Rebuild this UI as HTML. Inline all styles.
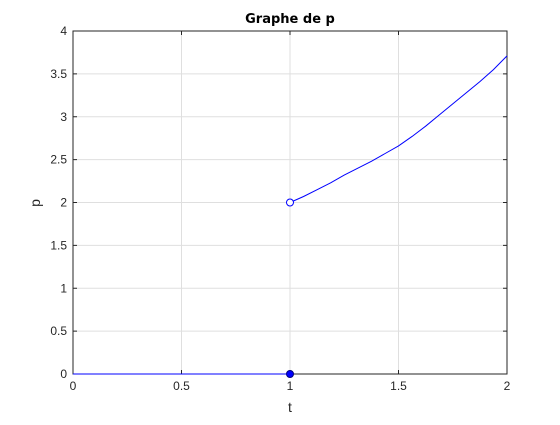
<!DOCTYPE html>
<html><head><meta charset="utf-8"><style>
body{margin:0;background:#fff;width:560px;height:420px;overflow:hidden}
svg text{font-family:"Liberation Sans",sans-serif;fill:#262626}
</style></head><body>
<svg id="chart" width="560" height="420" xmlns="http://www.w3.org/2000/svg">
<rect width="560" height="420" fill="#fff"/>
<g id="grid"></g>
<g id="axes"></g>
<g id="series"></g>
<text x="290" y="23" font-size="13" font-weight="bold" text-anchor="middle" style="font-family:'DejaVu Sans',sans-serif;fill:#000">Graphe de p</text>
<text x="290" y="412" font-size="14" text-anchor="middle">t</text>
<text x="40" y="203" font-size="14" text-anchor="middle" transform="rotate(-90 40 203)">p</text>
</svg>
<script>
const xTicks=[0,0.5,1,1.5,2];
const xTickLabels=["0","0.5","1","1.5","2"];
const yTicks=[0,0.5,1,1.5,2,2.5,3,3.5,4];
const yTickLabels=["0","0.5","1","1.5","2","2.5","3","3.5","4"];
const flatT=[0,1];
const flatP=[0,0];
const curveT=[1,1.0625,1.125,1.1875,1.25,1.3125,1.375,1.4375,1.5,1.5625,1.625,1.6875,1.75,1.8125,1.875,1.9375,2];
const curveP=[2,2.07,2.15,2.23,2.32,2.40,2.48,2.57,2.66,2.77,2.89,3.02,3.15,3.28,3.41,3.55,3.71];
const openPt=[1,2];
const filledPt=[1,0];
const L=73,R=507,T=31,B=374;
const sx=v=>L+(v-0)/(2-0)*(R-L);
const sy=v=>B-(v-0)/(4-0)*(B-T);
const NS="http://www.w3.org/2000/svg";
function mk(tag,parent,attrs){const e=document.createElementNS(NS,tag);for(const k in attrs)e.setAttribute(k,attrs[k]);parent.appendChild(e);return e;}
const grid=document.getElementById('grid'),axes=document.getElementById('axes'),series=document.getElementById('series');
xTicks.forEach((v,i)=>{
  const g=mk('line',grid,{x1:sx(v),x2:sx(v),y1:T,y2:B,stroke:'#dfdfdf','stroke-width':1});
  
  
  const t=mk('line',axes,{x1:sx(v),x2:sx(v),y1:B,y2:B-4,stroke:'#262626'});
  
  
  const t2=mk('line',axes,{x1:sx(v),x2:sx(v),y1:T,y2:T+4,stroke:'#262626'});
  
  
  const l=mk('text',axes,{x:sx(v),y:B+16,'font-size':12,'text-anchor':'middle'});
  l.textContent=xTickLabels[i];
  
  
});
yTicks.forEach((v,i)=>{
  const g=mk('line',grid,{x1:L,x2:R,y1:sy(v),y2:sy(v),stroke:'#dfdfdf','stroke-width':1});
  
  
  const t=mk('line',axes,{x1:L,x2:L+4,y1:sy(v),y2:sy(v),stroke:'#262626'});
  
  
  const t2=mk('line',axes,{x1:R,x2:R-4,y1:sy(v),y2:sy(v),stroke:'#262626'});
  
  
  const l=mk('text',axes,{x:L-6,y:sy(v)+4,'font-size':12,'text-anchor':'end'});
  l.textContent=yTickLabels[i];
  
  
});
const box=mk('rect',axes,{x:L,y:T,width:R-L,height:B-T,fill:'none',stroke:'#262626','stroke-width':1});


const f=mk('polyline',series,{points:flatT.map((t,i)=>sx(t)+','+sy(flatP[i])).join(' '),fill:'none',stroke:'#0000ff','stroke-width':1});


const c=mk('polyline',series,{points:curveT.map((t,i)=>sx(t)+','+sy(curveP[i])).join(' '),fill:'none',stroke:'#0000ff','stroke-width':1});


const o=mk('circle',series,{cx:sx(openPt[0]),cy:sy(openPt[1]),r:3.5,fill:'#fff',stroke:'#0000ff','stroke-width':1});


const fm=mk('circle',series,{cx:sx(filledPt[0]),cy:sy(filledPt[1]),r:3.5,fill:'#0000ff',stroke:'#000080','stroke-width':1});


</script>
</body></html>
